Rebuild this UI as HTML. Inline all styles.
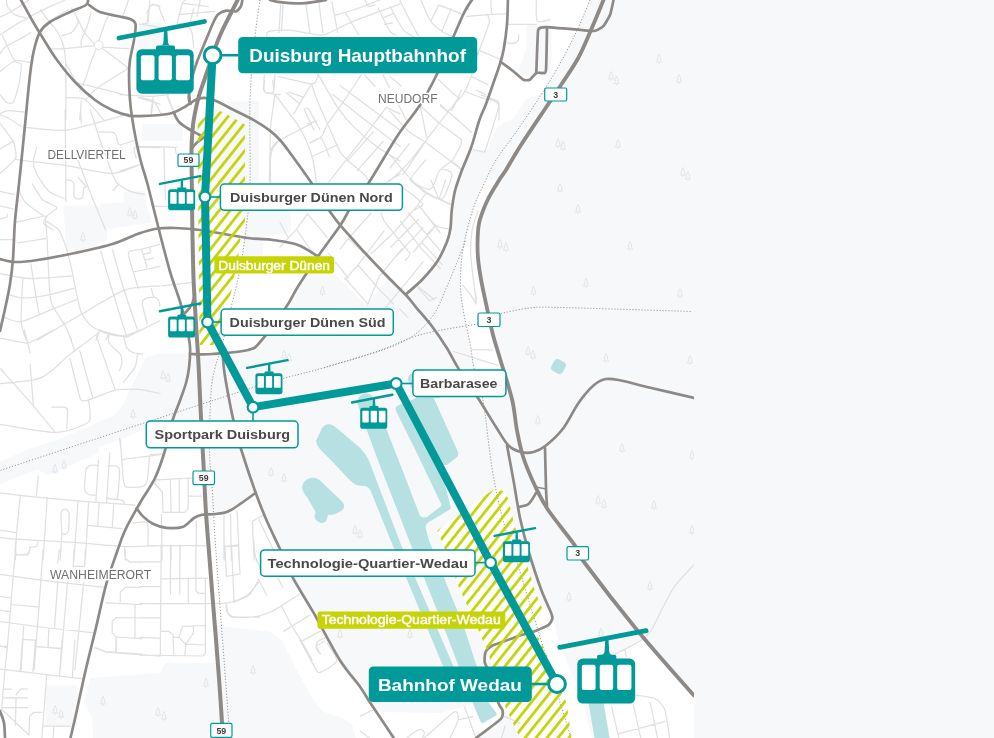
<!DOCTYPE html>
<html lang="de"><head><meta charset="utf-8"><title>Seilbahn Duisburg – Streckenkarte</title>
<style>
html,body{margin:0;padding:0;background:#f7f8fa;}
body{width:994px;height:738px;overflow:hidden;font-family:"Liberation Sans",sans-serif;}
svg{display:block;will-change:transform;}
text{font-family:"Liberation Sans",sans-serif;}
</style></head><body>
<svg width="994" height="738" viewBox="0 0 994 738">
<defs>
<clipPath id="mapclip"><rect x="0" y="0" width="694" height="738"/></clipPath>
<pattern id="hatch" patternUnits="userSpaceOnUse" width="8.6" height="8.6" patternTransform="translate(232.3 125) rotate(38.5) translate(-1.375 0)"><rect x="0" y="0" width="2.75" height="8.6" fill="#c5d304"/></pattern>
<g id="gondola"><line x1="-17.4" y1="-11.2" x2="68.1" y2="-27.7" stroke="#029a98" stroke-width="4.8" stroke-linecap="round"/><path d="M27.7 -19 L30.9 -19 L31.6 -7 Q32 -3.8 35 -3.6 L23.4 -3.6 Q26.6 -3.8 27 -7Z" fill="#029a98"/><rect x="19.6" y="-3.8" width="19" height="6" rx="1.8" fill="#029a98"/><rect x="0" y="0" width="57.3" height="44.5" rx="5.5" fill="#029a98"/><rect x="4.5" y="6.1" width="13.6" height="24.9" rx="2" fill="#fff"/><rect x="22.2" y="6.1" width="13.3" height="24.9" rx="2" fill="#fff"/><rect x="39.5" y="6.1" width="14.1" height="24.9" rx="2" fill="#fff"/></g>
<g id="gondolaS"><line x1="-17.4" y1="-11.2" x2="68.1" y2="-27.7" stroke="#029a98" stroke-width="5.2" stroke-linecap="round"/><path d="M27 -19 L31.4 -19 L32 -3 L26.4 -3Z" fill="#029a98"/><rect x="19.6" y="-3.8" width="19" height="6" rx="1.8" fill="#029a98"/><rect x="0" y="0" width="57.3" height="44.5" rx="5.5" fill="#029a98"/><rect x="4.5" y="6.1" width="13.6" height="24.9" rx="2" fill="#fff"/><rect x="22.2" y="6.1" width="13.3" height="24.9" rx="2" fill="#fff"/><rect x="39.5" y="6.1" width="14.1" height="24.9" rx="2" fill="#fff"/></g>
<g id="tree" fill="none" stroke="#dcdee1" stroke-width="0.7" stroke-linejoin="round"><path d="M0 -4.5 L2 0 L1 0 L2.6 3 L-2.6 3 L-1 0 L-2 0Z"/><path d="M0 3 L0 5"/></g>

</defs>
<rect width="994" height="738" fill="#f7f8fa"/>
<g clip-path="url(#mapclip)">
<polygon points="0,0 590,0 576,32 553,75 543,92 525,100 513.6,119 503.8,122.5 495.7,129 487.6,150 472,150 461.5,171.3 455,190.8 451.8,210 450.4,229 447,242 437.4,261 422.8,279 407,294 388,278 366,305 335,274 307,274 286,308 262,341 248,350 212,354 199,354 199,400 201,418 204,468 206,513 210,552 214,615 217,663 165,663 160,673 90,678 84,704 92,717 93,738 0,738" fill="#fff"/>
<polygon points="213.4,514 228,511.5 241,503.4 255.7,492.8 267,521.3 280,549 293,577 314,613 340,660 360,687 369.7,702 394,738 223,738 219,678 214,615 210,552" fill="#fff"/>
<polygon points="614,655.3 645.5,636.7 693.7,694 693.7,738 609.8,738 604,704.8 634.6,704.3 634.6,661" fill="#fff"/>
<polygon points="394,738 376,712 440,713 470,705 486,700 498,703 502,712 500,720 478,738" fill="#fff"/>
<polygon points="546,600 552,615 558,640 581,695 592,738 568,738 548,690 530,640" fill="#fff"/>
<polygon points="198.5,124 205,117 213,110.5 221.5,111.5 229,113 229,102 258,102 258,181 198.5,181" fill="#f7f8fa" stroke="#f7f8fa" stroke-width="1.5" stroke-linejoin="round"/>
<polygon points="247,212 290,212 290,232 263,236 262,258 243,258 245.5,230" fill="#f7f8fa" stroke="#f7f8fa" stroke-width="1.5" stroke-linejoin="round"/>
<polygon points="143,125 182,125 182,140 143,140" fill="#f7f8fa" stroke="#f7f8fa" stroke-width="2" stroke-linejoin="round"/>
<polygon points="140,26 160,24 162,46 138,48" fill="#f7f8fa" stroke="#f7f8fa" stroke-width="4" stroke-linejoin="round"/>
<polygon points="64,206 104,206 107,239.5 97.5,243 97.5,247.6 66.7,251.7" fill="#f7f8fa" stroke="#f7f8fa" stroke-width="1" stroke-linejoin="round"/>
<polygon points="101,204 124,203 124,192 143,191 151,222 101,230" fill="#f7f8fa" stroke="#f7f8fa" stroke-width="1" stroke-linejoin="round"/>
<polygon points="199,354 160,354 146,358 140,371 133,385 123.6,405 114,416 91,426 57,440.6 27.6,450 0,462 0,484 38,468.5 47,475 68,466 97.5,453 98.4,447.3 117,440 146,428 146,449 164,450 172,421 199,421" fill="#f7f8fa" stroke="#f7f8fa" stroke-width="1" stroke-linejoin="round"/>
<polygon points="217,627 229,628 270,632.7 281,641 296.6,672 312.7,701 322.3,712.4 341.6,719 351.3,725.3 354.5,738 223,738" fill="#f7f8fa" stroke="#f7f8fa" stroke-width="2" stroke-linejoin="round"/>
<polygon points="46,686 77,686 77,725 46,725" fill="#f7f8fa" stroke="#f7f8fa" stroke-width="1" stroke-linejoin="round"/>
<polygon points="528,26 550,26 550,81 520,70 528,49" fill="#f7f8fa" stroke="#f7f8fa" stroke-width="3" stroke-linejoin="round"/>
<polygon points="484.5,180 499,180 487.8,199.5 479.7,220.6 477.7,237 478,258 481.3,280.8 486.2,304.4 492.7,333.7 500.8,361.3 503,368.6 474.8,368.6 471.5,353 466.7,328.8 461.8,301 460,280 462.6,250 465,241.8 474.8,209.3" fill="#fff"/>
<polygon points="494.6,488.5 503,491 508,498 513,519 520,545 531,577 534.6,590 542,608 537,617 529,624 533,631 540,640 546,653 566.5,703 571.6,738 520,738 505,706 497,690 489,655 478,629 466,603 458,585 444.6,548.5 437.3,530.6" fill="#fff"/>
<path d="M316 441 L321.5 429 Q324.5 423.3 330 424.3 Q334 425.3 337 428.3 L360.4 448.2 Q366 454 368.7 460 L402.2 547.8 L462 686 L453 690 L393.7 547.8 L370.5 490.5 Q368.5 486.8 364.5 486 Q360 485.8 356 485 Q351.5 482 348 478.4 L333.5 462.7 L320 449.3 Q316.5 445.5 316 441Z" fill="#b7e0e2"/>
<path d="M357 402 Q358 395 365 393.5 Q371 393 372 396 L386 428 L398.5 460 L419.9 515.5 Q421.5 517.5 423.5 517.5 L426.6 517.3 L440 507 Q441.8 505.5 441.2 503.9 L415.4 450 L396 411 Q394.5 407.5 397.5 405.8 L431 392 L458 452 Q459 455 457 457 L447 465 L440 465 L448.3 497.6 L450.7 507.3 Q451 509 449.5 509.8 L428.8 522 Q425.5 524 425.7 528 L428.8 540 L464.6 629 L488.8 703 L496.5 713 Q497.2 714.5 496 715.5 L483.3 723 Q481.5 723.6 480.5 721.6 L472.7 703 L444.5 629 L412 547.8 L377.8 460 L366 428 Z" fill="#b7e0e2"/>
<path d="M408 380 Q408 373 415 373 L440 373 L440 398 L416 398 Z" fill="#b7e0e2"/>
<path d="M302 487 Q303 481 309.5 478.2 Q315 477 319.5 480 L342.8 502.3 Q346 507 342 510.5 L335 514.3 Q331.5 515.2 328 514.8 L326.8 519.8 Q325 523.5 320.8 523 Q316 521.5 314.4 517 L315.6 512 L307 497 Q302.5 492 302 487Z" fill="#b7e0e2"/>
<rect x="552" y="360" width="13" height="13" rx="4" fill="#b7e0e2" transform="rotate(28 558.5 366.5)"/>
<path d="M588 700 L603 700 L609.5 738 L594.5 738Z" fill="#b7e0e2"/>
<circle cx="98.7" cy="45.2" r="4.4" fill="none" stroke="#e0e0e0" stroke-width="1"/>
<path d="M0 17.0732 C1.1 16.5 7.2 13.6 9.7561 12.1951 C12.3 10.8 19.8 6.3 21.9512 4.87805 C24.1 3.5 27.7 0.6 28.4553 0 M6.50407 0 C6.6 0.8 6.4 4.8 7.31707 6.50407 C8.3 8.2 12.5 13.3 14.6341 14.6341 C16.8 16.0 24.7 17.5 26.0163 17.8862 M0 34.9593 C1.9 33.7 13.1 26.3 16.2602 24.3902 C19.4 22.5 24.6 19.9 26.8293 18.6992 C29.0 17.5 31.8 15.4 34.9593 13.8211 C38.1 12.2 50.1 6.5 53.6585 4.87805 C57.2 3.3 63.7 0.6 65.0407 0 M0 53.6585 C0.6 52.9 2.2 49.1 4.87805 47.1545 C7.5 45.3 19.7 39.1 22.7642 37.3984 C25.8 35.7 29.9 33.1 30.8943 32.5203 M0 71.5447 C1.7 70.3 11.1 62.0 14.6341 60.9756 C18.1 59.9 28.3 62.4 30.0813 62.6016 M2.43902 35.7724 C3.9 38.7 12.5 57.7 14.6341 60.9756 C16.8 64.3 20.6 61.9 21.1382 64.2276 C21.7 66.6 20.1 77.8 19.5122 81.3008 C18.9 84.8 17.0 91.8 16.2602 94.3089 C15.5 96.8 14.1 101.5 13.0081 102.439 C11.9 103.4 8.0 103.4 6.50407 102.439 C5.0 101.5 0.8 95.3 0 94.3089 M0 113.821 C0.9 113.4 5.1 110.8 8.13008 110.569 C11.2 110.4 23.9 112.0 26.0163 112.195 M40.6504 9.7561 C41.6 11.1 46.9 18.7 48.7805 21.1382 C50.7 23.6 55.4 28.6 56.9106 30.8943 C58.4 33.2 60.9 38.6 61.7886 40.6504 C62.6 42.7 63.9 47.8 64.2276 48.7805 M48.8 21.1 L68.3 9.8 M52.0325 48.7805 C53.5 48.8 59.3 49.2 64.2276 48.7805 C69.2 48.4 90.8 45.9 94.3089 45.5285 M98.6992 40.6504 C99.5 38.4 104.6 24.0 105.691 21.1382 C106.8 18.3 107.8 16.8 108.13 16.2602 M102.9 47.2 L130.1 48.8 M102.439 48.7805 C103.8 49.7 110.8 54.6 113.821 56.9106 C116.9 59.2 126.7 67.0 128.455 68.2927 M95.935 49.5935 C95.4 51.0 92.4 58.1 91.0569 61.7886 C89.7 65.5 85.9 77.9 84.5528 81.3008 C83.2 84.7 80.2 89.9 79.6748 91.0569 M94.3089 43.9024 C93.2 42.6 86.6 35.7 84.5528 32.5203 C82.5 29.3 77.9 19.1 76.4228 16.2602 C74.9 13.4 72.1 9.1 71.5447 8.13008 M84.5528 32.5203 C84.2 33.5 81.7 38.9 81.3008 40.6504 C80.9 42.4 81.3 46.4 81.3008 47.1545 M64.2276 48.7805 C64.4 50.7 65.7 56.7 65.8537 65.0407 C66.0 73.3 65.9 113.6 65.8537 120 M65.9 63.4 L76.4 82.9 M76.4228 82.9268 C78.9 83.5 91.5 86.3 97.561 87.8049 C103.6 89.3 124.9 95.0 128.455 95.935 M128.455 68.2927 C124.9 70.6 102.5 84.2 97.561 87.8049 C92.6 91.4 87.5 97.9 86.1789 99.187 M65.8537 97.561 C68.0 97.8 80.1 96.6 84.5528 99.187 C89.0 101.8 101.8 117.6 104.065 120 M81.3 100.8 L79.7 120.0 M61.7886 35.7724 C62.9 35.4 69.6 34.0 71.5447 32.5203 C73.4 31.0 77.5 24.7 78.0488 22.7642 C78.6 20.9 76.6 17.0 76.4228 16.2602 M91.0569 12.1951 C90.7 13.6 88.6 22.0 87.8049 24.3902 C87.0 26.8 84.9 31.6 84.5528 32.5203 M128.455 0 C128.1 1.1 126.0 7.7 125.203 9.7561 C124.4 11.8 122.3 16.9 121.951 17.8862 M143.1 24.4 L160.0 27.6 M147.154 21.1382 C147.4 19.4 148.6 8.4 149.593 6.50407 C150.6 4.6 154.9 4.9 156.098 4.87805 C157.3 4.9 159.5 6.3 160 6.50407 M138.2 97.6 L160.0 104.1 M22.7642 127.073 C27.7 127.5 54.4 131.4 65.0407 130.325 C75.7 129.3 106.4 120.1 113.821 118.13 C121.2 116.1 126.7 113.8 128.455 113.252 M65.0407 110 C65.1 117.6 65.8 164.4 65.8537 175.041 C65.9 185.7 65.9 198.0 65.8537 201.057 M80.5 110.0 L81.3 123.0 M90.2439 110 C91.5 113.8 98.3 135.1 100.813 142.52 C103.4 149.9 110.9 169.8 112.195 173.415 M21.1382 160.407 C26.3 161.0 54.4 163.8 65.0407 165.285 C75.7 166.8 103.7 173.4 112.195 173.415 C120.7 173.4 135.2 166.2 138.211 165.285 M99.187 131.951 C100.9 132.0 111.7 131.9 113.821 132.764 C115.9 133.6 116.4 137.8 117.073 139.268 C117.7 140.7 117.6 144.8 119.512 144.959 C121.4 145.1 131.7 141.4 133.333 140.894 M36.5854 147.398 C36.2 149.1 33.2 158.8 33.3333 162.033 C33.4 165.3 35.6 171.6 37.3984 175.041 C39.2 178.5 45.7 188.6 48.7805 191.301 C51.9 194.1 62.4 197.8 64.2276 198.618 M32.5203 183.984 C33.7 185.8 39.4 196.7 42.2764 199.431 C45.1 202.2 56.3 205.7 56.9106 207.561 C57.5 209.5 48.7 213.8 47.1545 215.691 C45.6 217.6 43.1 222.2 43.9024 223.821 C44.7 225.5 52.5 229.3 53.6585 230 M17.8862 188.049 C18.6 189.6 21.7 198.0 24.3902 201.057 C27.0 204.1 38.0 212.2 40.6504 214.065 C43.3 216.0 46.4 216.9 47.1545 217.317 M16.3 222.2 L42.3 216.5 M65.8537 179.919 C66.5 180.0 70.6 180.2 71.5447 180.732 C72.5 181.3 73.7 183.0 73.9837 184.797 C74.3 186.6 73.7 194.6 73.9837 196.179 C74.3 197.8 75.6 198.3 76.4228 198.618 C77.3 198.9 80.5 198.9 81.3008 198.618 C82.1 198.3 82.6 197.4 82.9268 196.179 C83.2 194.9 83.2 189.2 83.7398 188.049 C84.3 186.9 87.3 186.6 87.8049 186.423 M78.0 177.5 L86.2 186.4 M78.0488 160.407 C79.6 164.4 87.8 186.4 91.0569 194.553 C94.3 202.7 104.0 225.9 105.691 230 M112.195 173.415 C112.8 174.6 115.0 181.1 117.073 183.171 C119.2 185.3 126.9 190.0 130.081 191.301 C133.3 192.6 143.0 194.2 144.715 194.553 M113.0 190.5 L118.7 184.0 M0 114.878 C0.8 115.2 4.0 116.0 6.50407 117.317 C9.0 118.6 19.4 125.2 21.1382 126.26 M0 123.008 C1.5 125.1 11.3 138.2 13.0081 140.894 C14.7 143.6 14.3 143.7 14.6341 145.772 C14.9 147.9 17.2 155.6 15.4472 158.78 C13.7 162.0 1.8 171.7 0 173.415 M0.0 149.0 L13.8 140.9 M14.6 158.8 L21.1 160.4 M0.0 191.3 L14.6 194.6 M0.0 205.9 L13.8 209.2 M0 218.943 C0.8 218.8 5.7 217.9 6.50407 217.317 C7.4 216.7 7.2 214.4 7.31707 214.065 M138.2 147.4 L160.0 147.7 M152.8 205.9 L160.0 206.7 M45.5285 220 C45.7 222.3 46.8 232.9 47.1545 239.512 C47.5 246.2 48.4 270.1 48.7805 276.911 C49.2 283.7 49.8 294.4 50.4065 298.049 C51.0 301.7 52.0 304.6 53.6585 307.805 C55.4 311.0 63.0 321.9 65.0407 325.691 C67.1 329.4 70.8 338.3 71.5447 340 M47.1545 221.626 C48.5 222.6 56.4 227.1 58.5366 229.756 C60.6 232.4 63.5 239.8 65.0407 244.39 C66.6 248.9 70.2 263.1 71.5447 268.78 C72.9 274.5 75.3 288.0 76.4228 293.171 C77.6 298.3 79.6 308.9 81.3008 312.683 C83.0 316.5 88.0 323.2 91.0569 325.691 C94.1 328.2 103.1 332.5 107.317 333.821 C111.5 335.1 124.6 336.7 126.829 337.073 M17.9 242.8 L45.5 238.7 M13.0081 276.098 C15.3 276.4 25.7 278.5 32.5203 278.537 C39.3 278.5 67.0 276.4 71.5447 276.098 M30.8943 263.902 C31.3 266.4 33.2 279.2 34.1463 285.041 C35.1 290.9 38.5 310.9 39.0244 314.309 M22.7642 278.537 C22.6 283.5 20.8 313.6 21.1382 320.813 C21.5 328.0 25.4 337.8 26.0163 340 M9.7561 294.797 C11.3 295.2 18.2 298.0 22.7642 298.049 C27.3 298.0 42.8 295.9 48.7805 294.797 C54.8 293.7 71.0 289.1 73.9837 288.293 M4.87805 317.561 C6.8 318.0 15.4 322.7 21.1382 321.626 C26.8 320.6 47.2 311.2 53.6585 308.618 C60.1 306.1 73.8 300.7 76.4228 299.675 M37.3984 340 C42.5 337.0 71.1 320.2 81.3008 314.309 C91.5 308.5 116.0 293.2 125.203 289.919 C134.4 286.6 155.9 286.3 160 285.854 M100.813 250.894 C102.0 254.9 107.5 275.0 110.569 285.041 C113.6 295.1 124.9 331.0 126.829 337.073 M112.195 249.268 C113.5 253.8 120.5 278.6 123.577 288.293 C126.6 298.0 136.5 327.1 138.211 332.195 M133.333 272.033 C132.8 269.8 127.5 255.2 128.455 252.52 C129.4 249.9 137.8 250.2 141.463 249.268 C145.1 248.3 157.8 245.0 160 244.39 M133.3 272.0 L138.2 288.3 M133.3 272.0 L160.0 266.3 M141.5 249.3 L147.2 267.2 M143.902 254.146 C144.7 254.0 149.7 253.3 150.407 252.52 C151.1 251.8 149.7 248.2 149.593 247.642 M145.5 259.8 L153.7 258.2 M151.2 288.3 L153.7 297.2 M147.154 324.065 C146.6 321.6 142.4 306.0 142.276 302.927 C142.2 299.9 144.9 298.7 146.341 298.049 C147.8 297.4 153.0 297.0 154.472 297.236 C155.9 297.5 157.9 299.4 158.537 300.488 C159.2 301.5 159.8 305.5 160 306.179 M126.8 337.1 L160.0 320.8 M0.0 239.5 L14.6 239.5 M0.0 273.7 L13.0 276.1 M95.9 340.0 L99.2 332.2 M105.7 340.0 L108.9 333.8 M0 338.13 C3.0 338.7 21.8 342.8 26.0163 343.008 C30.2 343.2 32.5 341.3 35.7724 339.756 C39.0 338.2 51.6 331.1 53.6585 330 M24.4 330.0 L30.1 352.8 M0 383.659 C3.6 383.3 26.0 381.2 30.8943 380.407 C35.8 379.6 39.6 378.5 42.2764 377.154 C44.9 375.8 50.4 371.7 53.6585 369.024 C56.9 366.4 65.0 358.4 69.9187 354.39 C74.9 350.4 92.3 337.7 95.935 334.878 C99.5 332.0 100.2 330.6 100.813 330 M30.1 364.1 L33.3 404.8 M0 368.211 C3.8 372.5 26.1 397.3 32.5203 404.797 C39.0 412.3 52.6 429.2 55.2846 432.439 M0 424.309 C6.4 425.3 44.9 432.7 55.2846 432.439 C65.6 432.2 84.7 425.7 88.6179 421.87 C92.5 418.1 88.6 402.5 88.6179 399.919 M67.5 330.0 L74.8 351.1 M69.9187 358.455 C71.1 362.9 78.2 391.7 79.6748 396.667 C81.2 401.6 81.9 400.4 82.9268 400.732 C84.0 401.1 84.8 401.2 88.6179 399.919 C92.4 398.7 109.7 391.4 115.447 390.163 C121.2 388.9 133.0 389.0 138.211 389.35 C143.4 389.7 157.5 392.9 160 393.415 M79.7 350.3 L92.7 397.5 M95.9 334.9 L115.4 390.2 M108.943 334.878 C108.9 335.8 107.6 340.7 108.943 343.008 C110.3 345.3 118.8 352.1 120.325 354.39 C121.8 356.7 122.0 360.6 121.951 362.52 C121.9 364.4 119.8 369.7 119.512 370.65 M123.577 336.504 C124.0 337.8 125.7 346.0 126.829 347.886 C128.0 349.8 131.5 352.0 133.333 352.764 C135.1 353.5 141.2 353.9 142.276 354.065 M137.398 354.39 C137.1 355.9 136.6 364.2 134.959 367.398 C133.3 370.6 124.9 380.3 123.577 382.033 M99.187 330 C100.9 330.5 110.8 333.4 113.821 334.065 C116.9 334.7 122.2 336.2 125.203 335.691 C128.2 335.2 138.1 330.7 139.837 330 M52.0325 407.236 C53.5 407.2 62.4 406.9 64.2276 407.236 C66.0 407.6 67.2 408.0 67.4797 410.488 C67.8 413.0 66.8 426.3 66.6667 428.374 M119.5 438.1 L121.1 450.0 M0 492.846 C2.3 493.1 10.4 494.3 19.5122 495.285 C28.6 496.2 64.6 499.8 78.0488 500.976 C91.5 502.1 128.3 504.6 134.959 505.041 M38.2 475.8 L36.6 495.3 M20.3252 495.285 C19.9 500.2 16.8 530.0 16.2602 537.561 C15.7 545.1 15.5 557.4 15.4472 560 M47.2 497.7 L43.1 560.0 M0.0 530.2 L16.3 532.7 M0 537.561 C1.9 537.8 7.7 538.6 16.2602 539.187 C24.8 539.8 60.7 541.6 73.1707 542.439 C85.7 543.3 113.4 546.1 123.577 546.504 C133.7 546.9 155.8 545.8 160 545.691 M78.0 501.0 L74.0 560.0 M88.6 501.8 L85.4 560.0 M99.2 502.6 L97.6 526.2 M113.8 503.4 L112.2 527.8 M87.8 525.4 L122.0 528.6 M61.7886 533.496 C61.7 531.1 60.6 516.0 60.9756 513.171 C61.4 510.3 64.1 509.1 65.0407 509.106 C66.0 509.1 68.7 510.6 69.1057 513.171 C69.5 515.7 68.8 528.6 68.2927 531.057 C67.8 533.5 65.8 534.0 65.0407 534.309 C64.3 534.6 62.2 533.6 61.7886 533.496 M60.2 560.0 L61.8 533.5 M98.374 460.325 C98.3 460.9 98.4 464.6 97.561 465.203 C96.7 465.8 92.4 464.7 91.0569 465.203 C89.7 465.7 86.9 466.5 86.1789 469.268 C85.4 472.0 84.3 485.8 84.5528 488.78 C84.8 491.7 87.3 493.7 88.6179 494.472 C89.9 495.2 95.1 495.2 95.935 495.285 M95.9 501.0 L98.4 460.3 M106.5 501.8 L109.8 453.0 M107.317 466.016 C108.3 466.0 114.0 465.5 115.447 466.016 C116.9 466.5 119.3 466.3 119.512 470.081 C119.7 473.9 118.5 495.3 117.073 498.537 C115.7 501.8 108.5 497.8 107.317 497.724 M107.317 498.537 C109.0 498.7 120.0 499.6 121.951 500.163 C123.9 500.7 124.1 503.0 124.39 503.415 M120.325 440 C120.7 444.7 122.8 475.1 123.577 480.65 C124.3 486.2 124.6 486.5 126.829 487.154 C129.1 487.8 140.7 487.1 143.089 486.341 C145.5 485.6 146.4 484.2 147.154 480.65 C147.9 477.1 149.3 459.1 149.593 456.26 M122.0 459.5 L160.0 454.6 M153.7 483.1 L160.0 488.8 M156.1 479.0 L160.0 479.8 M133.333 522.927 C134.9 522.9 145.4 520.3 147.154 522.927 C148.9 525.6 147.9 543.0 147.967 545.691 M16.2602 539.187 C16.2 540.9 14.0 552.1 15.4472 553.821 C16.9 555.5 26.7 554.6 28.4553 553.821 C30.2 553.1 29.1 548.2 30.0813 547.317 C31.0 546.5 35.6 547.3 36.5854 546.504 C37.5 545.7 38.0 541.5 38.2114 540.813 M124.4 546.5 L125.2 560.0 M15.4 550.0 L11.4 598.8 L7.3 647.6 L4.9 670.0 M43.1 550.0 L39.0 606.9 L34.1 670.0 M59.3 550.0 L57.7 563.0 M57.7 582.5 L54.5 628.0 M74.0 550.0 L73.2 566.3 L84.6 566.3 L85.4 550.0 M0.0 574.4 L40.7 580.1 L104.1 587.4 M0.0 596.3 L11.4 598.0 M11.4 604.5 L38.2 606.9 M0.0 610.2 L10.6 611.8 M0.0 621.5 L48.8 628.0 L94.3 632.9 M67.5 582.5 L60.2 670.0 M83.7 582.5 L74.8 670.0 M23.6 626.4 L21.1 670.0 M48.8 628.0 L48.0 647.6 M22.8 639.4 L35.0 640.2 M35.0 646.7 L61.0 648.4 M0.0 645.9 L6.5 647.6 M125.2 550.0 L125.2 558.1 L130.1 562.2 L141.5 562.2 M120.3 602.0 L120.3 592.3 L125.2 587.4 L141.5 587.1 M105.7 602.8 L141.5 604.5 M135.0 604.5 L135.0 637.0 M141.5 618.0 L116.3 617.5 L112.2 621.5 L112.2 632.9 L116.3 637.0 L141.5 638.6 M116.3 637.0 L116.3 652.4 M95.1 647.6 L105.7 651.6 L141.5 654.1 M15.4 550.0 L16.3 554.9 L27.6 554.9 L29.3 550.0 M0.0 669.0 L46.7 674.6 L81.3 678.6 M4.8 670.6 L1.6 709.2 L29.0 735.0 M0.0 646.4 L7.2 646.4 M22.5 640.0 L20.1 670.6 M35.4 640.0 L33.0 671.4 M35.4 646.4 L61.2 648.9 M48.3 640.0 L48.3 647.2 M62.0 640.0 L59.6 675.4 M74.8 640.0 L72.4 677.0 M46.7 674.6 L41.9 738.0 M42.7 726.1 L70.8 726.1 M53.9 726.1 L53.1 738.0 M3.2 689.1 L11.3 689.1 M2.4 697.9 L27.4 697.9 M2.4 707.6 L27.4 707.6 M16.1 697.9 L15.3 725.3 M29.0 735.0 L29.8 715.7 L33.8 712.4 L41.9 712.4 M95.0 648.0 L106.2 652.1 L160.0 656.1 M115.9 640.0 L115.9 652.1 M16.0966 694.728 C16.7 694.1 19.6 689.8 20.9256 689.095 C22.2 688.4 26.6 689.1 27.3642 689.095 M280.7 4.9 L279.0 32.5 M305.9 4.1 L309.9 32.5 M318.9 3.3 L322.9 32.5 M331.9 1.6 L337.6 32.5 M266.016 39.0244 C266.1 38.6 266.5 36.6 266.829 35.7724 C267.1 34.9 265.9 32.4 268.455 31.7073 C271.0 31.0 283.0 29.7 288.78 30.0813 C294.6 30.5 313.7 34.5 318.049 34.9593 C322.4 35.4 322.0 35.8 326.179 34.1463 C330.4 32.5 345.2 24.6 353.821 21.1382 C362.4 17.6 394.6 6.1 400 4.06504 M334.309 15.4472 C336.6 14.8 348.5 11.6 353.821 9.7561 C359.1 8.0 376.8 1.1 379.837 0 M345.7 13.0 L358.7 35.0 M365.203 0 C365.6 0.8 367.3 5.9 368.455 6.50407 C369.6 7.1 374.2 5.1 374.959 4.87805 M378.211 8.13008 C379.5 10.8 387.5 27.8 389.593 30.8943 C391.7 34.0 395.3 34.5 396.098 34.9593 M383.1 17.9 L392.8 13.8 M384.7 24.4 L392.8 22.8 M264.39 74.878 C264.3 76.6 263.3 87.4 263.577 89.5122 C263.9 91.6 265.7 92.5 266.829 92.7642 C268.0 93.0 272.4 94.0 273.333 91.9512 C274.3 89.9 274.8 76.9 274.959 74.878 M274.959 94.3902 C274.5 97.8 271.5 117.4 270.894 123.659 C270.3 129.9 270.3 141.2 270.081 148.049 C269.9 154.9 269.4 178.2 269.268 182.195 M270.081 151.301 C270.9 150.2 272.6 144.8 277.398 141.545 C282.2 138.3 307.6 125.7 311.545 123.659 M278.211 76.5041 C282.1 77.4 307.0 83.6 311.545 83.8211 C316.1 84.0 316.5 79.3 317.236 78.1301 C318.0 77.0 318.0 74.5 318.049 74.065 M288.8 92.0 L302.6 96.8 M274.959 94.3902 C276.4 96.3 284.6 107.2 287.154 110.65 C289.7 114.1 294.6 120.1 296.911 123.659 C299.2 127.3 304.8 137.2 306.667 141.545 C308.6 145.9 312.0 156.3 313.171 161.057 C314.3 165.8 316.0 179.7 316.423 182.195 M311.5 83.8 L293.7 113.9 M311.545 83.8211 C312.3 86.0 315.8 96.9 318.049 102.52 C320.3 108.1 328.4 125.9 331.057 131.789 C333.7 137.7 338.5 149.3 340.813 152.927 C343.1 156.5 347.9 160.2 350.569 162.683 C353.2 165.1 361.3 171.8 363.577 174.065 C365.9 176.3 369.3 181.2 370.081 182.195 M318.049 74.065 C320.3 78.0 333.4 101.2 337.561 107.398 C341.7 113.6 349.3 122.4 353.821 126.911 C358.4 131.5 371.2 142.4 376.585 146.423 C382.0 150.4 397.3 159.3 400 161.057 M340.0 85.4 L400.0 130.2 M332.683 94.3902 C336.3 97.2 355.7 112.7 363.577 118.78 C371.4 124.9 395.8 143.2 400 146.423 M361.138 74.878 C359.1 77.9 348.0 95.2 344.065 100.894 C340.2 106.6 330.5 119.5 327.805 123.659 C325.1 127.8 323.4 134.4 321.301 136.667 C319.2 138.9 311.2 142.4 309.919 143.171 M386.341 107.398 C383.3 111.4 366.0 134.1 360.325 141.545 C354.6 148.9 341.3 166.1 337.561 170.813 C333.9 175.6 329.7 180.9 328.618 182.195 M304.228 109.837 C304.5 109.6 306.1 108.2 306.667 108.211 C307.2 108.2 307.6 107.4 309.106 109.837 C310.6 112.3 318.4 127.1 319.675 129.35 M304.2 109.8 L314.0 130.2 M307.5 123.7 L316.4 121.2 M309.919 143.171 C311.2 142.6 319.0 136.7 321.301 138.293 C323.6 139.9 328.5 154.8 329.431 156.992 M312.4 156.2 L337.6 144.8 M364.4 74.9 L375.0 86.3 M383.1 74.9 L389.6 87.9 M400.0 174.1 L386.3 182.2 M400.0 113.9 L386.3 107.4 M347.3 161.1 L373.3 131.8 M357.1 170.8 L383.1 141.5 M390 6.50407 C391.5 9.2 400.2 25.7 403.008 29.2683 C405.9 32.9 413.1 36.4 414.39 37.3984 M399.756 0 C400.9 2.3 407.2 15.1 409.512 19.5122 C411.8 23.9 418.1 35.3 419.268 37.3984 M420.894 0 C422.0 2.5 428.0 17.3 430.65 21.1382 C433.3 24.9 440.8 30.6 443.659 32.5203 C446.5 34.4 453.7 36.8 455.041 37.3984 M438.8 4.9 L430.7 21.1 M451.0 8.9 L442.0 30.9 M438.8 4.9 L461.5 13.8 M466.423 16.2602 C468.9 16.1 482.8 14.9 487.561 14.6341 C492.3 14.3 504.8 13.9 507.073 13.8211 M487.561 14.6341 C487.8 15.6 489.9 19.2 489.187 22.7642 C488.4 26.4 482.2 42.3 481.057 45.5285 C479.9 48.8 479.6 49.8 479.431 50.4065 M469.7 0.0 L468.0 9.8 M490.8 0.0 L491.6 13.8 M479.4 50.4 L502.2 60.2 M507.1 24.4 L536.3 24.4 M536.341 0 C536.4 2.5 535.6 18.9 537.154 21.1382 C538.7 23.4 548.5 19.7 550 19.5122 M507.073 43.0894 C508.0 43.1 513.9 43.5 515.203 43.0894 C516.5 42.7 518.1 40.8 518.455 39.8374 C518.8 38.9 518.5 35.5 518.455 34.9593 M390.0 76.4 L401.4 86.2 M438.78 79.6748 C441.1 81.8 455.3 96.2 458.293 97.561 C461.3 98.9 463.3 93.5 464.797 91.0569 C466.3 88.6 469.7 81.2 471.301 76.4228 C472.9 71.7 477.8 53.4 478.618 50.4065 M464.797 91.0569 C466.7 91.8 477.6 96.4 481.057 97.561 C484.5 98.7 492.0 99.9 494.065 100.813 C496.2 101.8 498.4 103.5 498.943 105.691 C499.5 107.9 498.9 118.3 498.943 120 M440.4 105.7 L458.3 120.0 M458.3 97.6 L451.8 110.6 M471.3 76.4 L487.6 84.6 M396.5 100.8 L406.3 120.0 M390 111.138 C392.1 113.4 403.5 126.9 407.886 130.65 C412.2 134.4 421.1 139.1 427.398 143.659 C433.7 148.2 457.6 166.6 461.545 169.675 M420.1 105.4 L426.6 137.2 M420.894 106.26 C423.0 108.2 434.4 118.9 438.78 122.52 C443.1 126.1 455.6 135.1 458.293 137.154 C460.9 139.2 461.4 139.3 461.545 140.407 C461.7 141.5 461.1 144.4 459.919 146.911 C458.8 149.4 452.7 159.8 451.789 161.545 M461.545 90 C460.8 91.5 457.9 98.8 455.041 103.008 C452.2 107.2 442.5 118.9 437.154 125.772 C431.8 132.6 415.0 155.1 409.512 161.545 C404.0 168.0 392.3 178.8 390 181.057 M440.4 104.6 L471.3 132.3 M446.9 112.8 L459.9 98.1 M409.5 143.7 L390.0 168.0 M424.1 143.7 L403.0 174.6 M425.772 159.919 C424.1 162.2 410.6 176.0 411.138 179.431 C411.7 182.8 427.2 190.3 430.65 189.187 C434.1 188.0 437.9 171.4 440.407 169.675 C442.9 168.0 451.6 171.1 451.789 174.553 C452.0 178.0 445.4 197.0 442.033 198.943 C438.6 200.8 424.8 191.8 422.52 190.813 M390 155.041 C392.5 157.9 406.6 174.9 411.138 179.431 C415.7 184.0 424.5 191.2 429.024 194.065 C433.6 196.9 447.7 202.7 450.163 203.821 M440.407 169.675 C441.7 168.7 449.3 161.5 451.789 161.545 C454.3 161.5 460.4 168.7 461.545 169.675 M403.008 187.561 C405.3 189.5 421.2 201.2 422.52 203.821 C423.8 206.4 415.3 209.3 414.39 210 M390.0 194.1 L399.8 210.0 M481.057 94.878 C482.6 95.4 492.0 98.5 494.065 99.7561 C496.2 101.0 499.9 99.8 498.943 105.447 C498.0 111.1 487.8 143.1 485.935 148.537 C484.0 153.9 484.2 151.7 482.683 151.789 C481.2 151.9 474.1 149.6 472.927 149.35 M476.2 90.0 L485.9 94.9 M307.6 213.8 L296.3 229.3 L280.0 247.2 M307.6 213.8 L327.2 237.4 M296.3 229.3 L312.5 252.0 M280.0 222.8 L288.1 237.4 M348.3 238.2 L372.7 261.8 L393.8 284.6 M358.0 265.0 L380.8 291.1 L393.8 304.1 M345.0 278.0 L367.8 304.1 M328.8 253.7 L348.3 278.0 M371.1 213.0 L351.5 235.0 L340.2 248.8 M384.1 230.9 L358.0 265.0 L345.0 279.7 M402.0 248.8 L379.2 276.4 L367.8 304.1 M418.2 204.9 L393.8 232.5 L371.1 253.7 M423.1 261.8 L393.8 297.6 L385.7 307.3 M418.2 204.9 L440.0 232.5 M408.5 213.0 L440.0 250.4 M380.8 213.0 L384.1 221.1 L410.1 253.7 L408.5 256.9 L405.2 260.2 M400.3 221.1 L421.5 248.8 L440.0 268.3 M390.6 247.2 L418.2 219.5 M397.1 255.3 L423.1 227.6 M413.3 252.0 L432.8 229.3 M418.2 287.8 L429.6 300.8 L436.1 297.6 M409.756 180 C411.7 181.5 422.6 190.7 426.016 193.008 C429.4 195.3 436.2 198.2 439.024 199.512 C441.9 200.8 449.1 203.8 450.407 204.39 M430.9 180.0 L439.0 199.5 M445.5 180.0 L439.0 199.5 M417.9 204.4 L426.0 193.0 M417.886 204.39 C420.0 206.9 432.2 222.7 435.772 225.528 C439.4 228.4 447.3 228.4 448.78 228.78 M427.6 233.7 L435.0 226.3 M421.1 241.8 L442.3 264.6 M478.049 210.894 C477.4 213.0 473.2 223.8 472.358 228.78 C471.5 233.7 470.6 247.5 470.732 253.171 C470.8 258.9 472.5 272.1 473.171 277.561 C473.8 283.0 476.0 297.4 476.423 300 M417.9 286.5 L434.1 299.5 M400.0 309.3 L408.1 317.4 M453.7 351.5 L497.6 365.4 M471.5 349.9 L492.7 349.9 M462.602 284.878 C463.6 286.2 469.9 294.0 471.545 296.26 C473.2 298.5 475.9 303.4 476.423 304.39 M474.0 283.3 L476.4 304.4 M150.0 454.6 L163.0 453.8 M155.7 479.8 L191.5 478.2 M170.3 479.8 L171.1 512.4 M179.3 479.8 L179.3 512.4 M188.2 479.0 L188.2 508.3 L185.0 512.4 L163.0 512.4 L162.2 492.0 L154.9 483.9 L155.7 479.8 M189.0 496.1 L201.2 496.1 M161.4 514.8 L162.2 560.0 M150.0 545.7 L206.9 545.7 M171.1 545.7 L171.1 560.0 M180.1 545.7 L180.1 560.0 M196.3 521.3 L196.3 545.7 M224.0 514.8 L224.0 560.0 M230.5 514.0 L231.3 560.0 M237.0 510.7 L239.4 560.0 M224.0 546.5 L238.6 544.9 M254.1 560.0 L252.4 521.3 L263.8 514.8 L268.7 524.6 M258.9 519.7 L275.2 553.8 M234.959 601.789 C236.6 601.0 246.4 597.2 248.78 595.285 C251.2 593.4 254.1 587.4 255.285 585.528 C256.4 583.6 258.2 579.8 258.537 579.024 M253.659 540 C253.8 541.9 254.5 553.0 255.285 556.26 C256.0 559.5 259.6 566.3 260.163 567.642 M258.5 579.0 L266.7 595.3 M278.0 578.2 L282.9 587.2 M226.016 603.415 C226.1 604.4 226.1 609.9 226.829 611.545 C227.6 613.2 229.0 616.7 232.52 617.236 C236.0 617.8 252.4 617.1 256.911 616.423 C261.5 615.8 268.7 612.8 271.545 611.545 C274.4 610.3 278.1 607.8 281.301 605.854 C284.5 603.9 297.1 595.8 299.187 594.472 M281.301 605.854 C282.4 608.0 288.4 619.9 291.057 624.553 C293.7 629.2 301.6 641.6 304.065 645.691 C306.5 649.8 311.2 658.3 312.195 660 M283.7 631.1 L310.6 614.8 M300.8 641.6 L320.3 631.1 M320.325 653.821 C319.9 652.9 316.4 647.2 316.26 645.691 C316.1 644.2 317.7 641.8 318.699 640.813 C319.7 639.9 324.4 637.9 325.203 637.561 M299.799 640 C301.7 643.4 313.5 665.2 315.895 668.974 C318.3 672.7 318.3 673.1 320.724 672.193 C323.2 671.3 336.1 664.3 336.821 660.926 C337.6 657.5 328.3 645.3 327.163 643.219 M319.115 652.877 C318.7 652.1 315.3 647.8 315.895 646.439 C316.5 645.1 323.0 642.2 323.944 641.61 M360 716.579 C361.7 715.8 371.7 709.4 374.487 710.141 C377.3 710.9 383.0 721.5 384.145 723.018 M406.68 737.988 C407.8 737.2 414.6 732.1 416.338 731.066 C418.0 730.1 420.2 729.3 421.167 729.457 C422.1 729.6 424.2 731.7 424.386 732.676 C424.6 733.7 423.0 737.4 422.777 737.988 M424.386 737.988 C427.4 735.3 446.4 718.0 450.141 714.97 C453.9 711.9 455.6 711.2 456.579 711.751 C457.5 712.3 458.9 716.7 458.189 719.799 C457.4 722.9 451.1 735.9 450.141 737.988 M458.2 719.8 L472.7 716.6 M464.6 706.9 L475.9 738.0 M504.9 716.6 L520.0 723.0 M501.6 738.0 L504.9 726.2 M360.0 731.1 L369.7 738.0 M635.83 695.135 C638.1 695.6 651.8 697.1 655.135 698.755 C658.5 700.4 663.1 705.0 664.788 709.614 C666.5 714.2 669.1 734.8 669.614 738.089 M611.7 707.2 L618.9 738.1 M618.9 733.7 L664.8 721.7 M633.4 704.8 L640.7 738.1 M650.3 702.4 L657.5 738.1 M693.745 564.826 C691.5 567.4 678.1 581.5 674.44 586.544 C670.8 591.6 665.0 603.2 662.375 608.263 C659.7 613.3 654.0 626.2 651.515 629.981 C649.0 633.8 644.9 638.0 640.656 640.84 C636.4 643.7 618.3 652.6 615.319 654.112 M625.0 649.3 L626.2 656.5 M120 94.6341 C123.8 94.8 146.8 96.3 152.52 96.2602 C158.2 96.3 166.9 94.8 168.78 94.6341 M153.3 96.3 L150.9 112.5 M167.2 96.3 L173.7 112.5 M136.26 158.049 C136.3 156.7 131.5 147.9 136.26 146.667 C141.0 145.4 172.2 147.4 176.911 147.48 M163.902 147.48 C164.0 151.0 164.5 171.4 164.715 177.561 C164.9 183.7 165.4 197.4 165.528 200 M175.3 147.5 L176.1 153.2 M120.0 171.1 L139.5 164.6 M264.715 80 C264.6 81.1 263.7 88.2 263.902 89.7561 C264.1 91.3 264.5 92.4 266.341 93.0081 C268.2 93.6 278.4 94.4 280 94.6341 M272.8 80.0 L273.7 91.4 M280 140.163 C279.2 141.1 274.0 145.8 272.846 148.293 C271.7 150.8 270.6 155.3 270.407 161.301 C270.2 167.3 271.1 195.5 271.22 200 M161.2 545.0 L160.3 655.2 M140.0 561.9 L161.2 561.9 M140.0 586.5 L160.3 586.5 M140.0 617.9 L160.3 617.9 M140.0 637.4 L159.5 638.2 M140.0 655.2 L202.7 656.0 L205.3 653.5 L205.3 578.9 M161.2 578.9 L207.8 578.1 M170.5 545.0 L170.5 594.2 M179.8 545.0 L179.8 594.2 M195.9 545.0 L195.9 590.8 L198.5 593.3 L205.3 593.3 M188.3 578.9 L188.3 603.5 M160.3 631.4 L168.8 631.4 L173.1 634.8 L173.9 656.0 M173.9 637.4 L179.0 637.4 L182.4 626.4 L205.3 625.5 M193.4 626.4 L193.4 633.1 L185.8 644.2 L205.3 645.0 M179.0 637.4 L185.8 644.2 L184.9 656.0 M224.7 545.0 L226.4 575.5 M231.5 545.0 L234.1 602.6 M238.3 545.0 L240.0 573.8 L226.4 576.4 M224.7 546.7 L238.3 545.8 M140 603.475 C149.3 603.5 208.6 603.8 219.661 603.475 C230.7 603.2 231.6 602.0 234.915 600.932 C238.3 599.8 245.7 596.3 248.475 594.153 C251.2 592.0 257.5 583.7 258.644 582.288 M226.441 604.322 C226.6 605.3 227.1 611.3 228.136 612.797 C229.1 614.3 231.2 616.5 234.915 617.034 C238.6 617.5 257.1 617.0 260 617.034 M155.0 206.3 L168.8 206.3 M162.3 285.9 L191.5 282.7 M146.504 13.0081 C147.1 12.1 150.1 5.7 151.382 4.87805 C152.7 4.0 156.7 4.7 157.886 5.69106 C159.0 6.6 160.4 11.2 161.138 13.0081 C161.9 14.8 164.0 20.2 164.39 21.1382 M140.0 24.4 L148.1 22.8 M149.8 0.0 L148.1 22.8 M177.398 22.7642 C178.0 20.5 181.3 5.9 182.276 3.25203 C183.2 0.6 185.1 0.4 185.528 0 M179.0 14.6 L214.8 11.4 M182.3 3.3 L208.3 6.5 M188.8 27.6 L193.7 8.1 M193.659 47.1545 C193.5 45.4 192.6 34.8 192.033 32.5203 C191.5 30.2 190.5 28.8 188.78 27.6423 C187.1 26.5 178.7 23.3 177.398 22.7642 M200.2 0.0 L196.9 16.3 M283.1 3.3 L281.5 30.9 M286.3 92.7 L300.0 104.1 M140 97.561 C141.5 97.9 150.5 98.9 153.008 100.813 C155.5 102.7 160.2 112.3 161.138 113.821 M153.0 100.8 L151.4 113.8 M167.6 95.9 L177.4 120.3" fill="none" stroke="#e0e0e0" stroke-width="1.25" stroke-linecap="round" stroke-linejoin="round"/>
<path d="M260 0 C259.2 6.2 256.7 20.3 255 37 C253.3 53.7 250.8 75.5 250 100 C249.2 124.5 250.7 162.3 250 184 C249.3 205.7 247.8 215.0 246 230 C244.2 245.0 241.5 261.0 239 274 C236.5 287.0 233.8 296.2 231 308 C228.2 319.8 224.7 335.0 222 345 C219.3 355.0 216.8 360.0 215 368 C213.2 376.0 211.9 379.3 211 393 C210.1 406.7 209.2 433.3 209.5 450 C209.8 466.7 211.4 476.0 212.5 493 C213.6 510.0 213.2 513.2 216 552 C218.8 590.8 226.7 695.0 229 726 C231.3 757.0 229.8 736.0 230 738" fill="none" stroke="#8f8c8a" stroke-width="0.9" stroke-dasharray="1.2 1.8"/>
<path d="M590 0 C587.7 5.4 582.1 20.0 576 32.5 C569.9 45.0 562.7 59.6 553.5 75 C544.3 90.4 530.6 110.8 521 125 C511.4 139.2 502.2 150.2 496 160 C489.8 169.8 487.8 175.8 484 184 C480.2 192.2 476.5 198.2 473 209 C469.5 219.8 465.1 236.5 463 249 C460.9 261.5 460.5 274.0 460.5 284 C460.5 294.0 461.3 298.7 463 309 C464.7 319.3 468.7 336.2 470.5 346 C472.3 355.8 471.9 359.0 474 368 C476.1 377.0 480.0 383.3 483 400 C486.0 416.7 488.7 448.0 492 468 C495.3 488.0 498.8 504.3 503 520 C507.2 535.7 505.7 525.7 517 562 C528.3 598.3 562.0 708.7 571 738" fill="none" stroke="#8f8c8a" stroke-width="0.9" stroke-dasharray="1.2 1.8"/>
<path d="M465.5 241 C462.6 248.2 453.8 271.0 448 284 C442.2 297.0 438.8 309.0 430.5 319 C422.2 329.0 415.9 335.8 398 344 C380.1 352.2 347.9 360.5 323 368 C298.1 375.5 302.3 371.9 248.5 389 C194.7 406.1 41.4 456.9 0 470.5" fill="none" stroke="#8f8c8a" stroke-width="0.9" stroke-dasharray="1.2 1.8"/>
<path d="M478 324 C468.8 325.7 439.7 329.5 423 334 C406.3 338.5 394.7 345.3 378 351 C361.3 356.7 332.2 365.2 323 368" fill="none" stroke="#8f8c8a" stroke-width="0.9" stroke-dasharray="1.2 1.8"/>
<path d="M498 314 C503.3 313.0 519.7 309.1 530 308 C540.3 306.9 533.0 306.9 560 307.5 C587.0 308.1 670.0 310.8 692 311.5" fill="none" stroke="#8f8c8a" stroke-width="0.9" stroke-dasharray="1.2 1.8"/>
<path d="M21 0 C22.8 3.3 28.7 14.2 32 20 C35.3 25.8 36.8 28.3 41 35 C45.2 41.7 51.3 52.2 57 60 C62.7 67.8 68.7 75.3 75 82 C81.3 88.7 88.8 95.3 95 100 C101.2 104.7 106.2 107.4 112 110 C117.8 112.6 124.6 114.8 130 115.8 C135.4 116.8 139.4 115.9 144.4 115.8 C149.4 115.7 155.1 115.5 160 115 C164.9 114.5 169.5 113.9 173.7 112.5 C177.9 111.1 181.2 109.0 185 106.8 C188.8 104.6 193.1 101.0 196.4 99.5 C199.7 98.0 201.3 97.7 204.6 97.9 C207.9 98.2 211.1 99.0 216 101 C220.9 103.0 227.6 106.9 233.8 110 C240.0 113.1 247.3 116.4 253.3 119.8 C259.3 123.2 265.2 127.0 269.6 130.4 C274.1 133.8 276.8 136.5 280 140 C283.2 143.5 283.6 144.1 288.8 151.3 C294.1 158.5 304.6 172.8 311.5 183 C318.4 193.2 325.6 205.2 330.4 212.2 C335.2 219.2 335.0 219.1 340.2 225.2 C345.4 231.3 353.7 240.5 361.3 248.8 C368.9 257.1 378.1 266.9 385.7 274.8 C393.3 282.7 401.7 290.5 406.8 296 C411.9 301.5 412.0 302.4 416.3 307.6 C420.6 312.8 427.4 320.2 432.5 327 C437.6 333.8 442.7 341.4 447 348.3 C451.3 355.2 453.3 360.3 458.5 368.6 C463.7 376.9 471.8 388.3 478 398 C484.2 407.7 490.9 419.1 496 427 C501.1 434.9 504.3 441.3 508.5 445.5 C512.7 449.7 516.8 450.9 521 452 C525.2 453.1 529.3 453.1 533.5 452 C537.7 450.9 541.0 449.5 546 445.5 C551.0 441.5 558.1 435.1 563.5 428 C568.9 420.9 573.5 410.1 578.5 403 C583.5 395.9 588.9 389.5 593.5 385.5 C598.1 381.5 601.4 379.8 606 379 C610.6 378.2 614.3 379.2 621 380.5 C627.7 381.8 633.8 383.8 646 386.7 C658.2 389.6 686.0 396.1 694 398" fill="none" stroke="#8d8986" stroke-width="2.7" stroke-linecap="round" stroke-linejoin="round" />
<path d="M88 0 C87.7 0.8 89.0 3.0 86 5 C83.0 7.0 76.0 9.2 70 12 C64.0 14.8 55.0 18.7 50 22 C45.0 25.3 42.7 27.3 40 32 C37.3 36.7 35.7 42.8 34 50 C32.3 57.2 31.5 62.5 30 75 C28.5 87.5 26.8 106.8 25 125 C23.2 143.2 20.7 168.0 19 184 C17.3 200.0 16.0 208.5 15 221 C14.0 233.5 13.8 248.5 13 259 C12.2 269.5 11.3 275.7 10 284 C8.7 292.3 6.7 301.2 5 309 C3.3 316.8 0.8 327.3 0 331" fill="none" stroke="#8d8986" stroke-width="2.7" stroke-linecap="round" stroke-linejoin="round" />
<path d="M89 5 C90.8 6.2 95.3 10.2 100 12 C104.7 13.8 112.0 14.8 117 16 C122.0 17.2 126.9 17.7 130 19 C133.1 20.3 134.8 20.5 135.5 24 C136.2 27.5 134.9 34.0 134 40 C133.1 46.0 130.8 54.2 130 60 C129.2 65.8 129.0 68.3 129 75 C129.0 81.7 129.5 93.0 130 100 C130.5 107.0 131.0 110.3 132 117 C133.0 123.7 134.5 132.5 136 140 C137.5 147.5 139.1 154.7 141 162 C142.9 169.3 145.2 175.3 147.5 184 C149.8 192.7 152.9 205.7 155 214 C157.1 222.3 157.5 224.4 160 234 C162.5 243.6 166.7 260.2 170 271.5 C173.3 282.8 177.3 292.8 180 301.5 C182.7 310.2 184.3 316.5 186 324 C187.7 331.5 189.5 339.2 190 346.5 C190.5 353.8 189.7 361.9 189 368 C188.3 374.1 187.5 377.6 186 383 C184.5 388.4 182.2 394.2 180 400.5 C177.8 406.8 175.0 412.2 172.5 420.5 C170.0 428.8 167.9 440.9 165 450.5 C162.1 460.1 159.2 469.2 155 478 C150.8 486.8 145.0 494.2 140 503 C135.0 511.8 128.8 522.3 125 530.5 C121.2 538.7 120.2 542.9 117 552 C113.8 561.1 109.5 572.4 106 585 C102.5 597.6 99.4 613.4 96 627.6 C92.6 641.8 89.1 655.3 85.7 670 C82.3 684.7 78.1 704.7 75.6 716 C73.1 727.3 71.3 734.3 70.5 738" fill="none" stroke="#8d8986" stroke-width="2.7" stroke-linecap="round" stroke-linejoin="round" />
<path d="M189 95 L190 103" fill="none" stroke="#8d8986" stroke-width="2.7" stroke-linecap="round" stroke-linejoin="round" />
<path d="M237.6 0 C236.5 2.2 233.7 7.6 231 13 C228.3 18.4 224.0 26.5 221.3 32.5 C218.6 38.5 217.5 41.2 214.8 48.8 C212.1 56.4 207.7 69.9 205 78 C202.3 86.1 200.4 90.6 198.5 97.6 C196.6 104.6 194.8 113.8 193.7 120 C192.6 126.2 192.6 130.0 192.2 135 C191.8 140.0 191.6 141.8 191.5 150 C191.4 158.2 191.7 170.7 191.8 184 C192.0 197.3 192.1 214.0 192.4 230 C192.7 246.0 193.0 265.0 193.6 280 C194.2 295.0 195.2 309.2 195.8 320 C196.4 330.8 196.9 337.0 197.4 345 C197.9 353.0 198.1 355.8 198.7 368 C199.3 380.2 200.2 401.3 201 418 C201.8 434.7 202.9 452.2 203.7 468 C204.5 483.8 205.1 499.0 206 513 C206.9 527.0 207.7 535.0 209 552 C210.3 569.0 212.3 594.0 214 615 C215.7 636.0 217.5 657.5 219 678 C220.5 698.5 222.3 728.0 223 738" fill="none" stroke="#8d8986" stroke-width="4" stroke-linecap="round" stroke-linejoin="round" />
<path d="M242.4 0 C242.2 0.9 241.7 5.0 240.8 6.5 C239.9 8.0 237.9 10.9 236 11.4 C234.1 11.9 228.6 10.2 226.2 10.6 C223.8 11.0 219.7 13.0 218 14.6 C216.3 16.2 214.9 19.1 213.2 22.8 C211.5 26.5 207.2 37.1 205 42.3 C202.8 47.5 198.7 57.0 197 61.8 C195.3 66.6 193.1 73.2 192 78 C190.9 82.8 189.0 94.1 188.8 97.6 C188.6 101.1 190.2 103.1 190.4 104" fill="none" stroke="#8d8986" stroke-width="2.7" stroke-linecap="round" stroke-linejoin="round" />
<path d="M173.7 112.5 C174.6 114.1 176.6 119.3 179 122 C181.4 124.7 184.6 126.3 188 128.5 C191.4 130.7 197.8 133.9 199.7 135" fill="none" stroke="#8d8986" stroke-width="2.7" stroke-linecap="round" stroke-linejoin="round" />
<path d="M191.5 149 C192.4 147.9 194.8 144.5 197 142.5 C199.2 140.5 203.2 137.9 204.5 137" fill="none" stroke="#8d8986" stroke-width="2.7" stroke-linecap="round" stroke-linejoin="round" />
<path d="M195 294 C194.5 295.7 193.5 301.0 192 304 C190.5 307.0 188.0 310.0 186 312 C184.0 314.0 181.0 315.3 180 316" fill="none" stroke="#8d8986" stroke-width="2.7" stroke-linecap="round" stroke-linejoin="round" />
<path d="M0 259 C2.5 259.5 8.8 261.8 15 262 C21.2 262.2 27.5 261.5 37.5 260 C47.5 258.5 62.5 255.7 75 253 C87.5 250.3 102.1 247.2 112.5 244 C122.9 240.8 130.4 236.5 137.5 234 C144.6 231.5 148.8 230.0 155 229 C161.2 228.0 167.5 227.8 175 228 C182.5 228.2 187.8 228.3 200 230 C212.2 231.7 235.8 236.3 248 238 C260.2 239.7 264.7 238.8 273 240 C281.3 241.2 290.5 242.2 298 245 C305.5 247.8 314.7 254.6 318 256.5" fill="none" stroke="#8d8986" stroke-width="2.7" stroke-linecap="round" stroke-linejoin="round" />
<path d="M349 210 C347.6 212.5 345.7 217.2 340.5 225 C335.3 232.8 325.1 246.2 318 256.5 C310.9 266.8 303.4 277.9 298 286.5 C292.6 295.1 291.8 298.8 285.5 308 C279.2 317.2 266.8 334.5 260.5 341.5 C254.2 348.5 256.1 347.9 248 350 C239.9 352.1 221.7 353.3 212 354 C202.3 354.7 193.7 354.0 190 354" fill="none" stroke="#8d8986" stroke-width="2.7" stroke-linecap="round" stroke-linejoin="round" />
<path d="M472 0 C470.5 2.5 468.7 3.0 463 15 C457.3 27.0 445.2 57.0 438 72 C430.8 87.0 426.7 94.5 420 105 C413.3 115.5 406.7 121.8 398 135 C389.3 148.2 376.2 171.5 368 184 C359.8 196.5 352.2 205.7 349 210" fill="none" stroke="#8d8986" stroke-width="2.7" stroke-linecap="round" stroke-linejoin="round" />
<path d="M507.9 0 C507.8 4.1 507.7 16.3 507 24.4 C506.3 32.5 504.9 42.6 503.8 48.8 C502.7 55.0 502.2 56.4 500.6 61.8 C499.0 67.2 496.4 74.3 494 81.3 C491.6 88.3 488.4 97.5 486 104 C483.6 110.5 481.8 112.8 479.4 120 C476.9 127.2 474.3 138.4 471.3 147 C468.3 155.6 464.2 164.0 461.5 171.3 C458.8 178.6 456.6 184.4 455 190.8 C453.4 197.2 452.6 203.7 451.8 210 C451.0 216.3 451.2 223.5 450.4 228.8 C449.6 234.1 449.2 236.4 447 241.8 C444.8 247.2 441.4 255.1 437.4 261.3 C433.4 267.5 427.9 273.6 422.8 279 C417.7 284.4 409.2 291.3 406.5 293.8" fill="none" stroke="#8d8986" stroke-width="2.7" stroke-linecap="round" stroke-linejoin="round" />
<path d="M270 0 C271.3 0.3 272.7 1.2 278 1.8 C283.3 2.4 294.6 3.5 301.8 3.3 C309.0 3.1 317.0 1.4 321 0.8 C325.0 0.3 325.2 0.1 326 0" fill="none" stroke="#8d8986" stroke-width="2.7" stroke-linecap="round" stroke-linejoin="round" />
<path d="M613.5 0 C613.3 1.0 610.7 13.3 610 15 C609.3 16.7 604.6 24.9 603.5 26 C602.4 27.1 597.1 30.9 593.5 31 C589.9 31.1 553.5 27.5 550 27.3 C546.5 27.1 542.0 27.4 541.2 27.6 C540.4 27.8 538.3 28.0 538 31 C537.7 34.0 536.4 70.2 536.3 73" fill="none" stroke="#8d8986" stroke-width="2.7" stroke-linecap="round" stroke-linejoin="round" />
<path d="M547 29 C546.9 33.1 546.4 65.6 546 70 C545.6 74.4 543.8 72.7 542.8 73 C541.8 73.3 537.6 72.3 536.3 73 C535.0 73.7 531.1 79.0 529.8 79.7 C528.5 80.4 524.9 80.5 523.3 79.7 C521.7 78.9 515.9 73.3 513.6 71.5 C511.3 69.7 501.9 62.8 500.6 61.8" fill="none" stroke="#8d8986" stroke-width="2.7" stroke-linecap="round" stroke-linejoin="round" />
<path d="M603.5 0 C601.4 5.0 595.2 20.4 591 30 C586.8 39.6 583.5 48.3 578.5 57.5 C573.5 66.7 566.4 76.7 561 85 C555.6 93.3 552.7 97.5 546 107.5 C539.3 117.5 527.7 134.6 521 145 C514.3 155.4 509.6 164.2 506 170 C502.4 175.8 502.2 175.1 499.2 180 C496.2 184.9 491.1 192.7 487.8 199.5 C484.6 206.3 481.4 214.3 479.7 220.6 C478.0 226.8 478.0 230.8 477.7 237 C477.4 243.2 477.4 250.7 478 258 C478.6 265.3 479.9 273.1 481.3 280.8 C482.7 288.5 484.3 295.6 486.2 304.4 C488.1 313.2 490.3 324.2 492.7 333.7 C495.1 343.2 497.6 350.2 500.8 361.3 C504.1 372.4 509.5 388.5 512.2 400 C514.9 411.5 515.1 420.8 517 430.5 C518.9 440.2 520.3 448.4 523.5 458 C526.7 467.6 531.8 479.2 536 488 C540.2 496.8 541.8 500.7 548.5 510.5 C555.2 520.3 570.1 538.4 576 547 C581.9 555.6 573.8 548.2 584 562 C594.2 575.8 618.7 607.7 637 630 C655.3 652.3 684.5 684.7 694 695.6" fill="none" stroke="#8d8986" stroke-width="3.8" stroke-linecap="round" stroke-linejoin="round" />
<path d="M507 445.5 C507.8 449.6 512.0 472.0 513.5 480.5 C515.0 489.0 518.2 509.7 520 518 C521.8 526.3 526.3 543.6 528.8 552 C531.3 560.4 538.8 583.2 541.3 590 C543.8 596.8 548.6 606.9 549.9 610 C551.2 613.1 552.1 615.6 552.3 616.8 C552.5 618.0 552.1 619.6 551.7 620.5 C551.3 621.4 549.9 623.9 548.7 624.8 C547.5 625.7 543.0 627.6 541.3 628.4 C539.6 629.2 536.3 630.7 534 631.5 C531.7 632.3 525.2 633.9 521.8 635 C518.4 636.1 508.5 639.7 505 641 C501.5 642.3 494.3 644.5 492 645.8 C489.7 647.1 486.5 650.1 485.6 652 C484.7 653.9 484.5 660.1 484.7 662 C484.9 663.9 485.4 663.2 487 668 C488.6 672.8 496.6 698.1 498.4 703 C500.2 707.9 502.0 708.2 502.4 710 C502.8 711.8 502.8 716.1 501.6 718 C500.4 719.9 495.0 723.7 492 726 C489.0 728.3 477.9 736.6 476 738" fill="none" stroke="#8d8986" stroke-width="2.7" stroke-linecap="round" stroke-linejoin="round" />
<path d="M545 448 C545.2 454.7 545.7 478.4 546 488 C546.3 497.6 546.8 502.6 547 505.5" fill="none" stroke="#8d8986" stroke-width="2.7" stroke-linecap="round" stroke-linejoin="round" />
<path d="M518.5 507 C520.2 506.5 525.6 506.3 528.5 504 C531.4 501.7 534.8 494.8 536 493" fill="none" stroke="#8d8986" stroke-width="2.7" stroke-linecap="round" stroke-linejoin="round" />
<path d="M536 487 L546 489" fill="none" stroke="#8d8986" stroke-width="1.6" stroke-linecap="round" stroke-linejoin="round" />
<path d="M222.6 352.8 C222.9 355.8 223.2 363.7 224.2 370.7 C225.1 377.7 226.8 386.9 228.3 395 C229.8 403.1 231.1 410.4 233.2 419.4 C235.3 428.4 237.2 436.8 241 449 C244.8 461.2 251.4 480.8 255.7 492.8 C260.0 504.9 262.9 511.9 267 521.3 C271.1 530.7 275.7 539.6 280 549 C284.3 558.4 287.1 566.7 292.7 577.4 C298.3 588.1 305.9 599.4 313.8 613.2 C321.7 627.0 332.1 647.8 339.8 660 C347.5 672.2 355.0 679.7 360 686.7 C365.0 693.7 364.1 693.5 369.7 702 C375.3 710.5 389.8 732.0 393.8 738" fill="none" stroke="#8d8986" stroke-width="2.7" stroke-linecap="round" stroke-linejoin="round" />
<path d="M136.6 508.3 C137.7 509.6 140.3 513.8 143 516.4 C145.7 519.0 148.9 521.8 152.8 523.7 C156.7 525.6 161.4 527.2 166.3 527.8 C171.2 528.3 177.9 528.6 182.5 527 C187.1 525.4 190.8 520.0 194 518 C197.2 516.0 198.5 515.5 202 514.8 C205.5 514.1 210.7 514.5 215 514 C219.3 513.5 223.7 513.3 228 511.5 C232.3 509.7 236.4 506.5 241 503.4 C245.6 500.3 253.2 494.6 255.7 492.8" fill="none" stroke="#8d8986" stroke-width="2.7" stroke-linecap="round" stroke-linejoin="round" />
<path d="M0 711 C0.7 713.0 3.2 718.5 4 723 C4.8 727.5 4.8 735.5 5 738" fill="none" stroke="#8d8986" stroke-width="2.7" stroke-linecap="round" stroke-linejoin="round" />
<use href="#tree" x="560" y="188"/>
<use href="#tree" x="578" y="209"/>
<use href="#tree" x="500" y="244"/>
<use href="#tree" x="506" y="247"/>
<use href="#tree" x="630" y="246"/>
<use href="#tree" x="586" y="283"/>
<use href="#tree" x="533.5" y="291"/>
<use href="#tree" x="680" y="293"/>
<use href="#tree" x="528" y="351"/>
<use href="#tree" x="533" y="355"/>
<use href="#tree" x="606" y="358"/>
<use href="#tree" x="690" y="360"/>
<use href="#tree" x="611" y="76"/>
<use href="#tree" x="616.5" y="80.5"/>
<use href="#tree" x="659" y="59"/>
<use href="#tree" x="679" y="79"/>
<use href="#tree" x="558" y="143"/>
<use href="#tree" x="563" y="146"/>
<use href="#tree" x="618" y="144"/>
<use href="#tree" x="683" y="172"/>
<use href="#tree" x="688" y="176"/>
<use href="#tree" x="83" y="237"/>
<use href="#tree" x="130" y="212"/>
<use href="#tree" x="135" y="215"/>
<use href="#tree" x="322.5" y="291"/>
<use href="#tree" x="284" y="355"/>
<use href="#tree" x="289" y="358"/>
<use href="#tree" x="163" y="375"/>
<use href="#tree" x="168" y="378"/>
<use href="#tree" x="133" y="414"/>
<use href="#tree" x="55" y="469"/>
<use href="#tree" x="64" y="465"/>
<use href="#tree" x="271" y="472"/>
<use href="#tree" x="284" y="478"/>
<use href="#tree" x="355" y="530"/>
<use href="#tree" x="360" y="534"/>
<use href="#tree" x="538" y="420"/>
<use href="#tree" x="622" y="448"/>
<use href="#tree" x="692" y="455"/>
<use href="#tree" x="598" y="500"/>
<use href="#tree" x="604" y="504"/>
<use href="#tree" x="654" y="505"/>
<use href="#tree" x="692" y="530"/>
<use href="#tree" x="55" y="710"/>
<use href="#tree" x="61" y="714"/>
<use href="#tree" x="103" y="701"/>
<use href="#tree" x="158" y="712"/>
<use href="#tree" x="164" y="716"/>
<use href="#tree" x="206" y="683"/>
<use href="#tree" x="253" y="670"/>
<use href="#tree" x="340" y="634"/>
<use href="#tree" x="410" y="634"/>
<use href="#tree" x="569" y="597"/>
<use href="#tree" x="650" y="586"/>
<use href="#tree" x="601" y="633"/>
<use href="#tree" x="342" y="616"/>
<polygon points="197.6,124 205,117 213,110.5 221.5,111.5 244.9,124.5 244.9,225 240.6,237 238.8,253 232,288.5 226,312 219,336 214,345 199.5,345" fill="url(#hatch)"/>
<polygon points="494.6,488.5 503,491 508,498 513,519 520,545 531,577 534.6,590 542,608 537,617 529,624 533,631 540,640 546,653 566.5,703 571.6,738 520,738 505,706 497,690 489,655 478,629 466,603 458,585 444.6,548.5 437.3,530.6" fill="url(#hatch)"/>
<text x="47.5" y="159.2" font-size="12.5" fill="#707070" stroke="#fff" stroke-width="3" paint-order="stroke" stroke-linejoin="round" textLength="78.2" lengthAdjust="spacingAndGlyphs">DELLVIERTEL</text>
<text x="378" y="102.6" font-size="12.5" fill="#707070" stroke="#fff" stroke-width="3" paint-order="stroke" stroke-linejoin="round" textLength="59.5" lengthAdjust="spacingAndGlyphs">NEUDORF</text>
<text x="50" y="579.4" font-size="12.5" fill="#707070" stroke="#fff" stroke-width="3" paint-order="stroke" stroke-linejoin="round" textLength="101.2" lengthAdjust="spacingAndGlyphs">WANHEIMERORT</text>
<rect x="178" y="154" width="21" height="12.3" rx="1.6" fill="#fff" stroke="#029a98" stroke-width="1.2"/>
<text x="188.5" y="163.25" font-size="8.8" font-weight="bold" fill="#3d3d3c" text-anchor="middle">59</text>
<rect x="544.7" y="88" width="22" height="13" rx="1.6" fill="#fff" stroke="#029a98" stroke-width="1.2"/>
<text x="555.7" y="97.6" font-size="8.8" font-weight="bold" fill="#3d3d3c" text-anchor="middle">3</text>
<rect x="478" y="313" width="22" height="13.5" rx="1.6" fill="#fff" stroke="#029a98" stroke-width="1.2"/>
<text x="489" y="322.85" font-size="8.8" font-weight="bold" fill="#3d3d3c" text-anchor="middle">3</text>
<rect x="193" y="471" width="21.5" height="13.7" rx="1.6" fill="#fff" stroke="#029a98" stroke-width="1.2"/>
<text x="203.75" y="480.95" font-size="8.8" font-weight="bold" fill="#3d3d3c" text-anchor="middle">59</text>
<rect x="567" y="546.7" width="21.5" height="13.3" rx="1.6" fill="#fff" stroke="#029a98" stroke-width="1.2"/>
<text x="577.75" y="556.45" font-size="8.8" font-weight="bold" fill="#3d3d3c" text-anchor="middle">3</text>
<rect x="210.7" y="723.4" width="21.3" height="14" rx="1.6" fill="#fff" stroke="#029a98" stroke-width="1.2"/>
<text x="221.35" y="733.5" font-size="8.8" font-weight="bold" fill="#3d3d3c" text-anchor="middle">59</text>
<rect x="214.4" y="256.2" width="119.6" height="17.3" rx="2.8" fill="#c6d406"/>
<text x="218.3" y="269.6" font-size="12.6" fill="#fff" stroke="#fff" stroke-width="0.45" textLength="111.7" lengthAdjust="spacingAndGlyphs">Duisburger Dünen</text>
<rect x="317.5" y="611.5" width="187.8" height="17.2" rx="2.8" fill="#c6d406"/>
<text x="321.7" y="624.2" font-size="12.6" fill="#fff" stroke="#fff" stroke-width="0.45" textLength="179" lengthAdjust="spacingAndGlyphs">Technologie-Quartier-Wedau</text>
<polyline points="212.6,55.3 205,197 207.5,322 253,407.2 396.2,383.5 490.6,562.6 557,684" fill="none" stroke="#029a98" stroke-width="8" stroke-linejoin="round"/>
<line x1="220" y1="55.2" x2="239" y2="55.2" stroke="#029a98" stroke-width="2.6"/>
<line x1="531" y1="684" x2="549" y2="684" stroke="#029a98" stroke-width="2.6"/>
<line x1="209" y1="197" x2="220" y2="197" stroke="#029a98" stroke-width="1.6"/>
<line x1="211" y1="322" x2="221" y2="322" stroke="#029a98" stroke-width="1.6"/>
<line x1="253" y1="411" x2="253" y2="421" stroke="#029a98" stroke-width="1.6"/>
<line x1="400" y1="383.5" x2="414" y2="383.5" stroke="#029a98" stroke-width="1.6"/>
<line x1="475" y1="562.6" x2="487" y2="562.6" stroke="#029a98" stroke-width="1.6"/>
<circle cx="212.6" cy="55.3" r="8.4" fill="#fff" stroke="#029a98" stroke-width="3"/>
<circle cx="557" cy="684" r="8.4" fill="#fff" stroke="#029a98" stroke-width="3"/>
<circle cx="205" cy="197" r="5.35" fill="#fff" stroke="#029a98" stroke-width="2.1"/>
<circle cx="207.5" cy="322" r="5.35" fill="#fff" stroke="#029a98" stroke-width="2.1"/>
<circle cx="253" cy="407.2" r="5.35" fill="#fff" stroke="#029a98" stroke-width="2.1"/>
<circle cx="396.2" cy="383.5" r="5.35" fill="#fff" stroke="#029a98" stroke-width="2.1"/>
<circle cx="490.6" cy="562.6" r="5.35" fill="#fff" stroke="#029a98" stroke-width="2.1"/>
<use href="#gondola" transform="translate(136.4 49.2) scale(1.0)"/>
<use href="#gondola" transform="translate(577.3 658.6) scale(1.01)"/>
<use href="#gondolaS" transform="translate(168.1 189.2) scale(0.472)"/>
<use href="#gondolaS" transform="translate(168.1 316.6) scale(0.472)"/>
<use href="#gondolaS" transform="translate(255.4 373.2) scale(0.472)"/>
<use href="#gondolaS" transform="translate(360.2 407.8) scale(0.472)"/>
<use href="#gondolaS" transform="translate(502.9 541.2) scale(0.472)"/>
<rect x="220.4" y="184.1" width="182" height="26.2" rx="4" fill="#fff" stroke="#029a98" stroke-width="1.5"/>
<text x="230" y="202" font-size="13.6" font-weight="bold" fill="#4a4948" textLength="162.7" lengthAdjust="spacingAndGlyphs">Duisburger Dünen Nord</text>
<rect x="221.1" y="309" width="172.2" height="26.3" rx="4" fill="#fff" stroke="#029a98" stroke-width="1.5"/>
<text x="229.6" y="327" font-size="13.6" font-weight="bold" fill="#4a4948" textLength="155.9" lengthAdjust="spacingAndGlyphs">Duisburger Dünen Süd</text>
<rect x="146.3" y="421" width="151.7" height="26.8" rx="4" fill="#fff" stroke="#029a98" stroke-width="1.5"/>
<text x="154.5" y="439.2" font-size="13.6" font-weight="bold" fill="#4a4948" textLength="135.7" lengthAdjust="spacingAndGlyphs">Sportpark Duisburg</text>
<rect x="412.9" y="369.9" width="93" height="26.6" rx="4" fill="#fff" stroke="#029a98" stroke-width="1.5"/>
<text x="420.1" y="387.9" font-size="13.6" font-weight="bold" fill="#4a4948" textLength="77.4" lengthAdjust="spacingAndGlyphs">Barbarasee</text>
<rect x="260.6" y="549.9" width="214.4" height="26.3" rx="4" fill="#fff" stroke="#029a98" stroke-width="1.5"/>
<text x="267.5" y="568.4" font-size="13.3" font-weight="bold" fill="#4a4948" textLength="200.5" lengthAdjust="spacingAndGlyphs">Technologie-Quartier-Wedau</text>
<rect x="238.2" y="37" width="239" height="36.3" rx="4.5" fill="#029a98"/>
<text x="249.3" y="62.1" font-size="18.6" font-weight="bold" fill="#fff" textLength="216.7" lengthAdjust="spacingAndGlyphs">Duisburg Hauptbahnhof</text>
<rect x="368.8" y="666.4" width="163" height="35.6" rx="4.5" fill="#029a98"/>
<text x="377.9" y="690.9" font-size="17.4" font-weight="bold" fill="#fff" textLength="144" lengthAdjust="spacingAndGlyphs">Bahnhof Wedau</text>
</g>
</svg>
</body></html>
